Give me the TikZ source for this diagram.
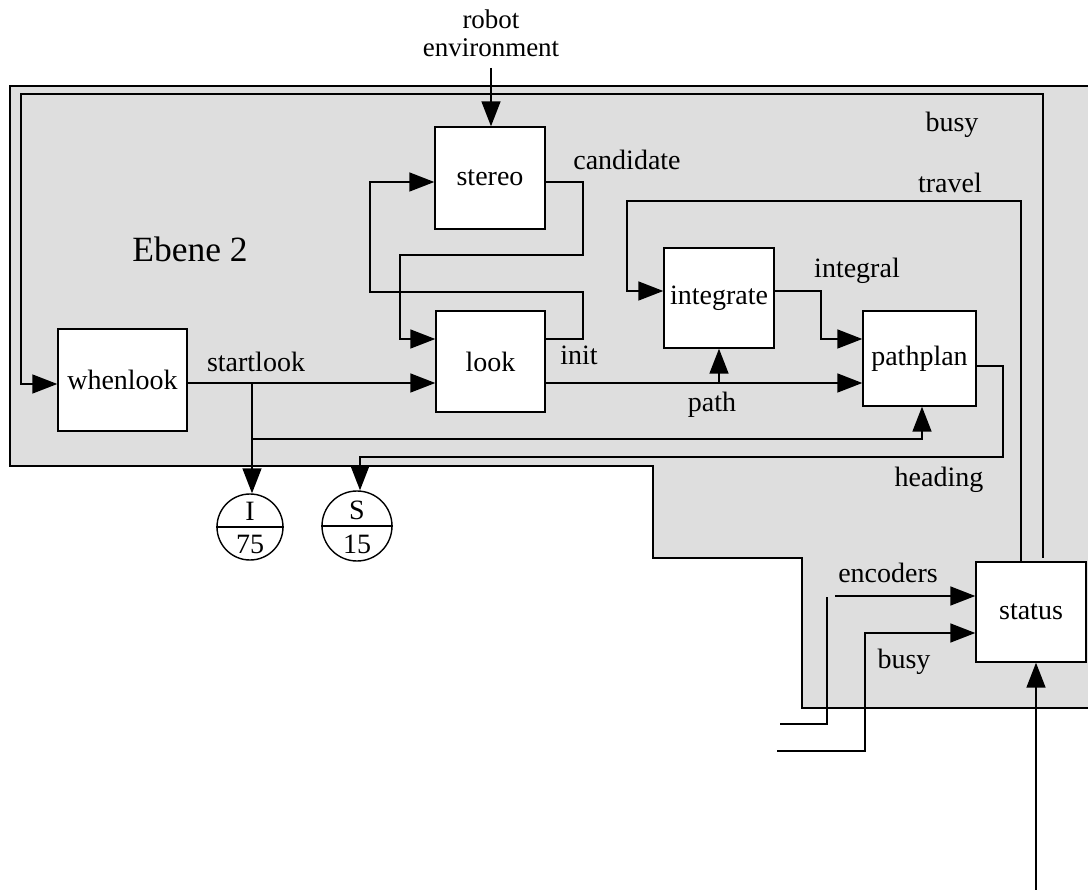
\documentclass[tikz,border=0pt]{standalone}
\usepackage{fontspec}
\setmainfont{Liberation Serif}
\usetikzlibrary{arrows.meta}
\definecolor{panel}{RGB}{222,222,222}
\tikzset{
  wire/.style={line width=1.6pt},
  arr/.style={wire, -{Triangle[length=25pt,width=19pt]}},
  lbl/.style={font=\fontsize{28}{30}\selectfont, inner sep=0pt},
  blk/.style={draw, fill=white, line width=1.4pt, inner sep=0pt, font=\fontsize{28}{30}\selectfont},
  ring/.style={draw, fill=white, circle, line width=1.4pt, inner sep=0pt}
}
\begin{document}
\begin{tikzpicture}[x=1pt,y=-1pt]
\useasboundingbox (0,0) rectangle (1088,890);
% grey panel
\fill[panel] (10,86) -- (1096,86) -- (1096,708) -- (802,708) -- (802,558) -- (653,558) -- (653,466) -- (10,466) -- cycle;
\draw[wire] (10,86) -- (1096,86) -- (1096,708) -- (802,708) -- (802,558) -- (653,558) -- (653,466) -- (10,466) -- cycle;

% blocks
\node[blk, minimum width=110pt, minimum height=102pt] (stereo) at (490,178) {stereo};
\node[blk, minimum width=109pt, minimum height=101pt] (look) at (490.5,361.5) {look};
\node[blk, minimum width=129pt, minimum height=102pt] (whenlook) at (122.5,380) {whenlook};
\node[blk, minimum width=110pt, minimum height=100pt] (integrate) at (719,298) {integrate};
\node[blk, minimum width=113pt, minimum height=95pt] (pathplan) at (919.5,358.5) {pathplan};
\node[blk, minimum width=110pt, minimum height=100pt] (status) at (1031,612) {status};

% circles
\node[ring, minimum size=66pt] (I) at (250,527) {};
\node[ring, minimum size=70pt] (S) at (357,526) {};
\draw[line width=1.4pt] (I.west) -- (I.east);
\draw[line width=1.4pt] (S.west) -- (S.east);
\node[lbl] (Itop) at (250,511) {I};
\node[lbl] (Ibot) at (250,544) {75};
\node[lbl] (Stop) at (357,510) {S};
\node[lbl] (Sbot) at (357,544) {15};

% labels
\node[lbl, font=\fontsize{35.5}{38}\selectfont] (ebene) at (190,249) {Ebene 2};
\node[lbl, align=center, font=\fontsize{27}{28}\selectfont] (renv) at (491,33) {robot\\environment};
\node[lbl] (lcand) at (627,160) {candidate};
\node[lbl] (linit) at (579,355) {init};
\node[lbl] (lstart) at (256,362) {startlook};
\node[lbl] (lpath) at (712,405) {path};
\node[lbl] (lint) at (857,271) {integral};
\node[lbl] (ltravel) at (950,183) {travel};
\node[lbl] (lbusy) at (952,125) {busy};
\node[lbl] (lhead) at (939,480) {heading};
\node[lbl] (lenc) at (888,573) {encoders};
\node[lbl] (lbusy2) at (904,662) {busy};

% free ends
\coordinate (envin) at (491,68);
\coordinate (sl) at (252,383);
\coordinate (pj) at (719,383);
\coordinate (encin) at (780,724);
\coordinate (busyin) at (777,751);
\coordinate (statin) at (1036,890);

% connectors
\draw[arr] (envin) -- (envin |- stereo.north);
% candidate
\draw[arr] (stereo.east |- 0,182) -- (583,182) -- (583,255) -- (400,255) -- (400,339) -- (look.west |- 0,339);
% init
\draw[arr] (look.east |- 0,339) -- (583,339) -- (583,292) -- (370,292) -- (370,182) -- (stereo.west |- 0,182);
% startlook
\draw[arr] (whenlook.east |- 0,383) -- (look.west |- 0,383);
\draw[arr] (sl) -- (sl |- I.north);
\draw[arr] (sl) -- (252,439) -- (922,439) -- (922,0 |- pathplan.south);
% path
\draw[arr] (look.east |- 0,383) -- (pathplan.west |- 0,383);
\draw[arr] (pj) -- (pj |- integrate.south);
% integral
\draw[arr] (integrate.east |- 0,291) -- (821,291) -- (821,339) -- (pathplan.west |- 0,339);
% travel
\draw[arr] (1021,0 |- status.north) -- (1021,201) -- (627,201) -- (627,291) -- (integrate.west |- 0,291);
% busy (feedback)
\draw[arr] (1043,558) -- (1043,94) -- (21,94) -- (21,384) -- (whenlook.west |- 0,384);
% heading
\draw[arr] (pathplan.east |- 0,366) -- (1003,366) -- (1003,457) -- (360,457) -- (360,0 |- S.north);
% encoders
\draw[wire] (encin) -- (827,724) -- (827,597);
\draw[arr] (835,596) -- (status.west |- 0,596);
% busy (input)
\draw[arr] (busyin) -- (865,751) -- (865,633) -- (status.west |- 0,633);
% bottom input
\draw[arr] (statin) -- (statin |- status.south);
\end{tikzpicture}
\end{document}
